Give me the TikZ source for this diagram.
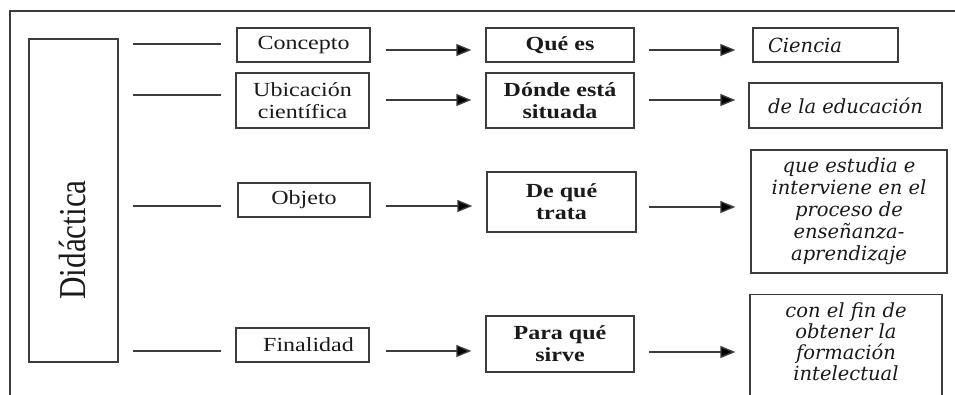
\documentclass[tikz,border=0pt]{standalone}
\usepackage{fontspec}
\usetikzlibrary{arrows.meta}
\newfontfamily\lfont[FakeStretch=1.2]{Liberation Serif}
\newfontfamily\dfont[FakeStretch=0.82]{Liberation Serif}
\newfontfamily\rfont{DejaVu Serif}
\definecolor{ln}{HTML}{3C3C3C}
\definecolor{tx}{HTML}{1A1A1A}
\tikzset{
  box/.style={draw=ln, line width=1.4pt, rectangle, inner sep=0pt, align=center, text=tx},
  lbox/.style={box, font=\lfont\fontsize{20}{22}\selectfont},
  mbox/.style={box, font=\lfont\bfseries\fontsize{20}{22}\selectfont},
  rbox/.style={box, font=\rfont\itshape\fontsize{19.5}{22}\selectfont},
  conn/.style={draw=ln, line width=1.4pt},
  arr/.style={draw=ln, line width=1.4pt, -{Triangle[length=15pt,width=12pt,fill=black]}},
}
\begin{document}
\begin{tikzpicture}[x=1pt,y=-1pt]
\useasboundingbox (0,0) rectangle (955,394);
\begin{scope}
\clip (0,0) rectangle (955,394);
% outer frame (cut at right and bottom)
\draw[conn] (10,420) -- (10,11) -- (980,11);
% Didactica
\node[box, minimum width=89pt, minimum height=323pt] (did) at (73.5,200.5) {};
\node[text=tx, font=\dfont\fontsize{38}{40}\selectfont, rotate=90, inner sep=0pt] (didtext) at (72,240) {Didáctica};
% left column
\node[lbox, minimum width=133pt, minimum height=34pt] (concepto) at (303.5,45) {Concepto};
\node[lbox, minimum width=133pt, minimum height=55pt] (ubic) at (302.5,100.5) {Ubicación\\científica};
\node[lbox, minimum width=132pt, minimum height=34pt] (objeto) at (304,200) {Objeto};
\node[lbox, minimum width=133pt, minimum height=34pt] (final) at (302.5,345) {\hspace{12pt}Finalidad};
% middle column
\node[mbox, minimum width=148pt, minimum height=34pt] (quees) at (560,45) {Qué es};
\node[mbox, minimum width=148pt, minimum height=55pt] (donde) at (560,100.5) {Dónde está\\situada};
\node[mbox, minimum width=149pt, minimum height=60pt] (trata) at (561.5,202) {De qué\\trata};
\node[mbox, minimum width=148pt, minimum height=56pt] (sirve) at (560,344) {Para qué\\sirve};
% right column
\node[rbox, minimum width=145pt, minimum height=34pt, text width=115pt, align=left] (ciencia) at (825.5,45) {Ciencia};
\node[rbox, minimum width=193pt, minimum height=45pt] (educ) at (845.5,105.5) {de la educación};
\node[rbox, minimum width=196pt, minimum height=123pt] (estudia) at (849,211.5) {que estudia e\\interviene en el\\proceso de\\enseñanza-\\aprendizaje};
\node[rbox, minimum width=192pt, minimum height=112pt, anchor=north] (fin) at (846,294) {};
\node[font=\rfont\itshape\fontsize{19.5}{21}\selectfont, text=tx, align=center, inner sep=0pt, anchor=north] (fintext) at (fin.north) [yshift=-8pt] {con el fin de\\obtener la\\formación\\intelectual};
% left connectors
\coordinate (l1) at (133,44); \coordinate (l2) at (133,95);
\coordinate (l3) at (133,206); \coordinate (l4) at (133,351);
\draw[conn] (l1) -- (l1 -| 221,0);
\draw[conn] (l2) -- (l2 -| 221,0);
\draw[conn] (l3) -- (l3 -| 221,0);
\draw[conn] (l4) -- (l4 -| 221,0);
% arrows left -> middle
\draw[arr] ([xshift=15pt]concepto.east |- 0,50) -- ([xshift=-14pt]quees.west |- 0,50);
\draw[arr] ([xshift=16pt]ubic.east |- 0,100) -- ([xshift=-14pt]donde.west |- 0,100);
\draw[arr] ([xshift=15pt]objeto.east |- 0,206) -- ([xshift=-14pt]trata.west |- 0,206);
\draw[arr] ([xshift=16pt]final.east |- 0,351) -- ([xshift=-14pt]sirve.west |- 0,351);
% arrows middle -> right
\draw[arr] ([xshift=14pt]quees.east |- 0,50) -- ([xshift=-17pt]ciencia.west |- 0,50);
\draw[arr] ([xshift=14pt]donde.east |- 0,100) -- ([xshift=-13pt]educ.west |- 0,100);
\draw[arr] ([xshift=12pt]trata.east |- 0,207) -- ([xshift=-15pt]estudia.west |- 0,207);
\draw[arr] ([xshift=14pt]sirve.east |- 0,352) -- ([xshift=-14pt]fin.west |- 0,352);
\end{scope}
\end{tikzpicture}
\end{document}
